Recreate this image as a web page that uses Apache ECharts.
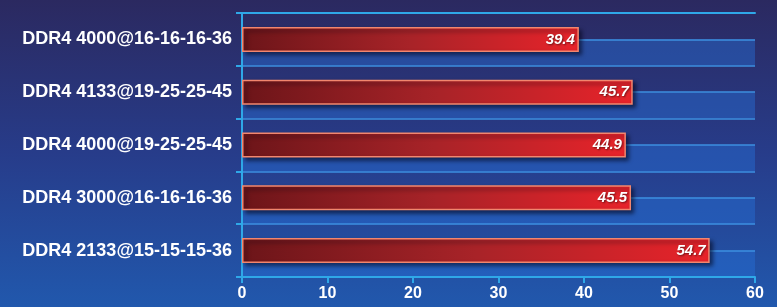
<!DOCTYPE html>
<html><head><meta charset="utf-8">
<script src="https://cdn.jsdelivr.net/npm/echarts@6/dist/echarts.min.js"></script>
<style>html,body{margin:0;padding:0;background:#2a3a80}#c{width:777px;height:307px}</style>
</head><body><div id="c"></div>
<script>
var categories = ['DDR4 4000@16-16-16-36','DDR4 4133@19-25-25-45','DDR4 4000@19-25-25-45','DDR4 3000@16-16-16-36','DDR4 2133@15-15-15-36'];
var values = [39.4, 45.7, 44.9, 45.5, 54.7];
var xMin = 0, xMax = 60, xStep = 10;
var bandCats = [];
categories.forEach(function(c){ bandCats.push('', ''); });

var chart = echarts.init(document.getElementById('c'));
var cyan = '#2fa8e8';
chart.setOption({
  backgroundColor: new echarts.graphic.LinearGradient(0,0,0,1,[
    {offset:0,color:'#2b2960'},{offset:0.5,color:'#273c8a'},{offset:1,color:'#2158ad'}]),
  animation:false,
  grid:{left:242,right:22,top:13,bottom:30,containLabel:false},
  xAxis:[{
    type:'value',min:xMin,max:xMax,interval:xStep,
    axisLine:{show:true,lineStyle:{color:cyan,width:2}},
    axisTick:{show:true,length:6,lineStyle:{color:cyan,width:2}},
    axisLabel:{color:'#ffffff',fontWeight:'bold',fontSize:16,fontFamily:'Liberation Sans, Arial, sans-serif',margin:9},
    splitLine:{show:false}
  },{
    type:'value',position:'top',min:xMin,max:xMax,
    axisLine:{show:true,lineStyle:{color:cyan,width:2}},
    axisTick:{show:false},axisLabel:{show:false},splitLine:{show:false}
  }],
  yAxis:[{
    type:'category',inverse:true,data:categories,
    axisLine:{show:true,lineStyle:{color:cyan,width:2}},
    axisTick:{show:true,length:6,lineStyle:{color:cyan,width:2}},
    axisLabel:{color:'#ffffff',fontWeight:'bold',fontSize:18,fontFamily:'Liberation Sans, Arial, sans-serif',margin:10},
    splitLine:{show:false}
  },{
    type:'category',inverse:true,data:bandCats,position:'left',
    axisLine:{show:false},axisTick:{show:false},axisLabel:{show:false},
    splitLine:{show:true,interval:0,lineStyle:{color:'#3d8fe0',width:1.5}},
    splitArea:{show:true,interval:0,areaStyle:{color:['rgba(0,0,0,0)','rgba(38,110,215,0.45)']}}
  }],
  series:[{
    type:'bar',yAxisIndex:0,xAxisIndex:0,data:values,barWidth:25,
    itemStyle:{
      color:new echarts.graphic.LinearGradient(0,0,1,0,[{offset:0,color:'#6c1519'},{offset:0.5,color:'#a82328'},{offset:1,color:'#e8232a'}]),
      borderColor:'#f2866e',borderWidth:1.5,
      shadowColor:'rgba(0,0,20,0.55)',shadowBlur:4,shadowOffsetX:3,shadowOffsetY:3
    },
    label:{show:true,position:'insideRight',distance:4,color:'#ffffff',fontStyle:'italic',fontWeight:'bold',fontSize:15,
      fontFamily:'Liberation Sans, Arial, sans-serif',textShadowColor:'rgba(0,0,0,0.5)',textShadowBlur:2,textShadowOffsetX:1,textShadowOffsetY:1}
  }]
});
</script></body></html>
